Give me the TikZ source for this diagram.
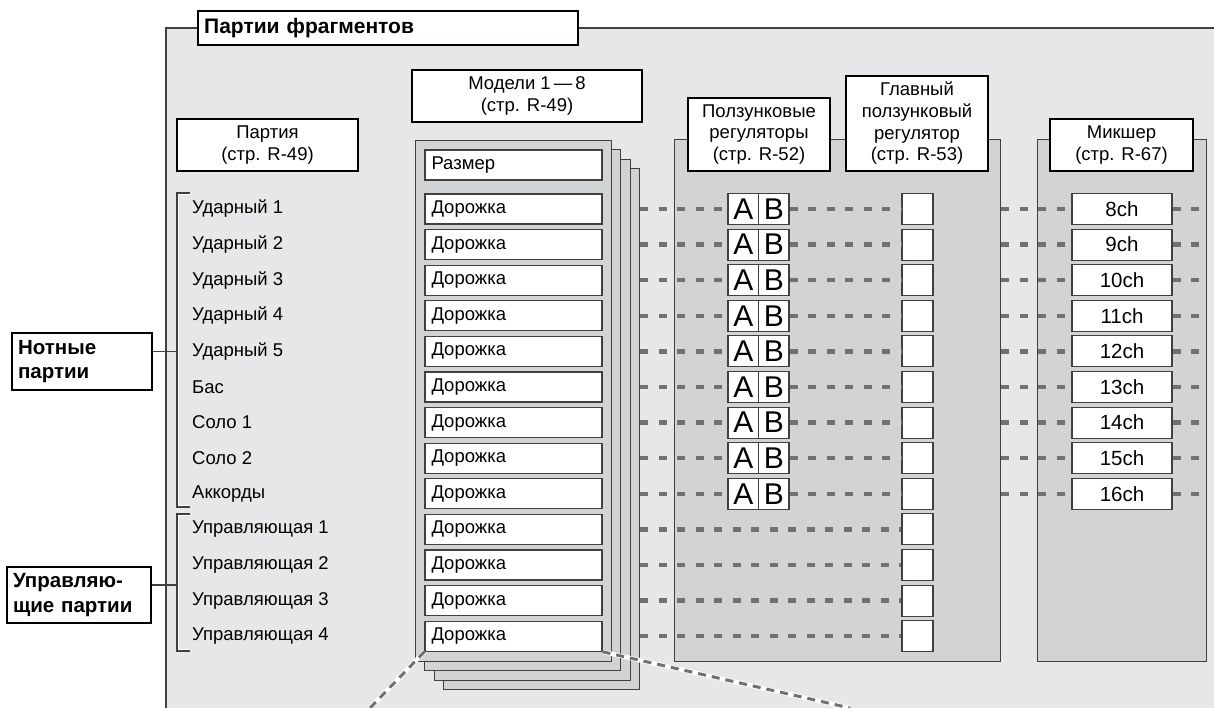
\documentclass[tikz,border=0pt]{standalone}
\usepackage{fontspec}
\setmainfont{Liberation Sans}
\usepackage{tikz}
\usetikzlibrary{positioning,calc}
\definecolor{framebg}{RGB}{230,231,232}
\definecolor{panelbg}{RGB}{209,211,212}
\definecolor{edgegray}{RGB}{64,64,66}
\definecolor{dashgray}{RGB}{112,113,115}

\begin{document}
\begin{tikzpicture}[
  x=1pt,y=-1pt,
  font=\fontsize{18.5}{21.7}\selectfont,
  hdr/.style={draw=black,line width=2.4pt,fill=white,align=center,inner sep=0pt},
  tag/.style={draw=black,line width=2.4pt,fill=white,align=left,inner xsep=6pt,inner ysep=0pt,font=\fontsize{20.5}{24.5}\selectfont\bfseries},
  sheet/.style={draw=edgegray,line width=1.1pt,fill=panelbg,inner sep=0pt,minimum width=196pt,minimum height=521pt},
  panel/.style={draw=edgegray,line width=1.1pt,fill=panelbg,inner sep=0pt},
  cell/.style={draw=edgegray,line width=1.1pt,fill=white,inner sep=0pt,minimum height=30pt},
  trk/.style={cell,minimum width=177pt,text width=164pt,inner xsep=6.5pt,align=left},
  ab/.style={cell,minimum width=30.5pt,minimum height=31pt,font=\fontsize{30}{30}\selectfont},
  mst/.style={cell,minimum width=31pt,minimum height=31pt},
  chn/.style={cell,minimum width=100pt,minimum height=31pt,font=\fontsize{20.5}{20.5}\selectfont},
  lbl/.style={anchor=west,inner sep=0pt},
  dsh/.style={dashgray,line width=4.5pt,dash pattern=on 8pt off 10.5pt},
  brk/.style={edgegray,line width=1.1pt},
]
\useasboundingbox (0,0) rectangle (1214,708);

% Рамка
\fill[framebg] (166,28) rectangle (1214,708);
\draw[edgegray,line width=1.1pt] (1214,28) -- (166,28) -- (166,708);
\node[tag,anchor=west,minimum height=34pt,text width=368pt,font=\fontsize{21}{24}\selectfont\bfseries] (title) at (197,28) {Партии фрагментов};

% Модели (стопка)
\foreach \k in {3,2,1,0}
  \node[sheet,anchor=north west] (sheet\k) at (415+9.3*\k,140+9.3*\k) {};

% Заголовки
\node[hdr,minimum width=230pt,minimum height=52pt] (models) at (527,96) {Модели 1\,—\,8\\(стр. R-49)};
\node[hdr,minimum width=181pt,minimum height=52pt] (part) at (267.5,145) {Партия\\(стр. R-49)};

% Панели
\node[panel,anchor=north west,minimum width=326pt,minimum height=522pt] (sld) at (674,139) {};
\node[panel,anchor=north west,minimum width=169pt,minimum height=522pt] (mix) at (1037,139) {};
\node[hdr,minimum width=142pt,minimum height=73pt] (fader) at (759,134.5) {Ползунковые\\регуляторы\\(стр. R-52)};
\node[hdr,minimum width=142pt,minimum height=95pt] (master) at (917,123.5) {Главный\\ползунковый\\регулятор\\(стр. R-53)};
\node[hdr,minimum width=143pt,minimum height=52pt] (mixer) at (1121.5,145) {Микшер\\(стр. R-67)};

% Размер
\node[trk] (size) at (513.5,165) {Размер};

% Партии и дорожки
\foreach \p [count=\i] in {Ударный 1,Ударный 2,Ударный 3,Ударный 4,Ударный 5,Бас,Соло 1,Соло 2,Аккорды,Управляющая 1,Управляющая 2,Управляющая 3,Управляющая 4} {
  \pgfmathsetmacro\y{209+35.6*(\i-1)}
  \node[lbl] (p\i) at (192,\y) {\p};
  \node[trk] (trk\i) at (513.5,\y) {Дорожка};
  \node[mst] (mst\i) at (917.5,\y) {};
}

% Ползунки A/B и каналы микшера
\foreach \q [count=\i] in {8,...,16} {
  \pgfmathsetmacro\y{209+35.6*(\i-1)}
  \node[ab] (a\i) at (743.25,\y) {A};
  \node[ab] (b\i) at (773.75,\y) {B};
  \node[chn] (ch\i) at (1122,\y) {\q ch};
  \draw[dsh] (sheet3.east |- trk\i) -- (a\i.west);
  \draw[dsh] (b\i.east) -- (mst\i.west);
  \draw[dsh] (sld.east |- ch\i) -- (ch\i.west);
  \draw[dsh,shorten >=7pt] (ch\i.east) -- (mix.east |- ch\i);
}
\foreach \i in {10,...,13}
  \draw[dsh] (sheet3.east |- trk\i) -- (mst\i.west);

% Группы партий
\node[tag,text width=128pt,minimum height=57pt] (notes) at (82,361.5) {Нотные\\партии};
\node[tag,text width=132pt,minimum height=56pt] (ctrl) at (79,595) {Управляю-\\щие партии};

\draw[white,line width=1.2pt] (190,194.6) -- (178.6,194.6) -- (178.6,505.4) -- (190,505.4);
\draw[brk] (190,193) -- (177,193) -- (177,507) -- (190,507);
\draw[white,line width=1.2pt] (190,515.6) -- (178.6,515.6) -- (178.6,649.4) -- (190,649.4);
\draw[brk] (190,514) -- (177,514) -- (177,651) -- (190,651);
\coordinate (nA) at (177,351.4);
\coordinate (nB) at (177,585);
\draw[brk] (notes.east |- nA) -- (nA);
\draw[brk] (ctrl.east |- nB) -- (nB);

% Выноска
\coordinate (zl) at (370,708);
\coordinate (zr) at (850,708);
\draw[white,line width=4.5pt] (trk13.south west) -- (zl);
\draw[dashgray,line width=3pt,dash pattern=on 8pt off 6pt] (trk13.south west) -- (zl);
\draw[white,line width=4.5pt] (trk13.south east) -- (zr);
\draw[dashgray,line width=3pt,dash pattern=on 8pt off 6pt] (trk13.south east) -- (zr);

\end{tikzpicture}
\end{document}
